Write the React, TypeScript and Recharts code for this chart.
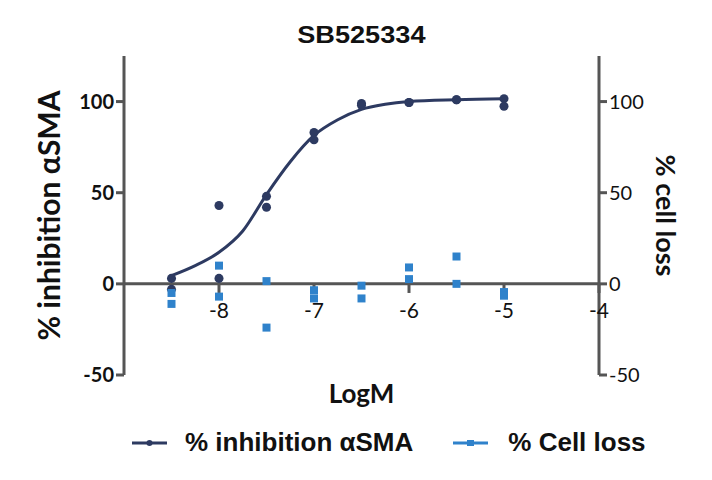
import React from "react";
import {
  ComposedChart,
  Legend,
  Line,
  ReferenceLine,
  Scatter,
  XAxis,
  YAxis,
} from "recharts";

// log concentrations (replicates share an x)
const doseX = [-8.5, -8.5, -8, -8, -7.5, -7.5, -7, -7, -6.5, -6.5, -6, -6, -5.5, -5.5, -5, -5];
const inhibitionY = [3, -3, 43, 3, 48, 42, 83, 79, 99, 98, 99.5, 99.5, 101, 101, 101.6, 97.4];
const cellLossY = [-5, -11, 10, -7, 1.5, -24, -3.5, -8, -1, -8, 9, 2.6, 15, 0, -4.5, -6.5];

// fitted curve
const curveX = [-8.5, -8.25, -8, -7.75, -7.5, -7.25, -7, -6.75, -6.5, -6.25, -6, -5.5, -5];
const curveY = [4.5, 10, 17.3, 29, 49, 67, 81.4, 90, 95.7, 98.5, 100, 101, 101.5];

const xTicks = [-8, -7, -6, -5, -4];
const yTicks = [-50, 0, 50, 100];

const DARK = "#2d3a61";
const BLUE = "#2f82cb";
const AXIS = "#555555";

const inhibitionData = doseX.map((x, i) => ({ x, y: inhibitionY[i] }));
const cellLossData = doseX.map((x, i) => ({ x, y: cellLossY[i] }));
const curveData = curveX.map((x, i) => ({ x, y: curveY[i] }));

const LegendIcon = ({ color, square }: { color: string; square?: boolean }) => (
  <svg width={35} height={12} style={{ display: "block" }}>
    <line x1={0} y1={6} x2={35} y2={6} stroke={color} strokeWidth={3} />
    {square ? (
      <rect x={14} y={3} width={7} height={6} fill={color} />
    ) : (
      <circle cx={17.5} cy={6} r={3} fill={color} />
    )}
  </svg>
);

const renderLegend = () => (
  <div
    style={{
      display: "flex",
      alignItems: "center",
      paddingLeft: 132,
      paddingTop: 2,
      fontFamily: "'Liberation Sans', Arial, sans-serif",
      fontWeight: "bold",
      fontSize: 26,
      color: "#111",
    }}
  >
    <LegendIcon color={DARK} />
    <span style={{ marginLeft: 18 }}>% inhibition αSMA</span>
    <span style={{ marginLeft: 40, display: "flex" }}>
      <LegendIcon color={BLUE} square />
    </span>
    <span style={{ marginLeft: 20 }}>% Cell loss</span>
  </div>
);

const App = () => {
  return (
    <div style={{ position: "absolute", left: 0, top: 0, width: 712, height: 480, background: "#fff" }}>
      <div
        style={{
          position: "absolute",
          top: 21,
          left: 0,
          width: 722,
          textAlign: "center",
          fontFamily: "'Liberation Sans', Arial, sans-serif",
          fontWeight: "bold",
          fontSize: 23,
          lineHeight: "28px",
          color: "#111",
        }}
      >
        <span style={{ display: "inline-block", transform: "scaleX(1.18)" }}>SB525334</span>
      </div>
      <ComposedChart
        width={712}
        height={480}
        margin={{ top: 56, right: 0, bottom: 25, left: 0 }}
      >
        <XAxis
          type="number"
          dataKey="x"
          domain={[-9, -4]}
          allowDataOverflow
          ticks={xTicks}
          tick={false}
          axisLine={false}
          tickLine={false}
          height={50}
          label={{
            value: "LogM",
            position: "insideTop",
            offset: 10,
            fill: "#111",
            fontSize: 26,
            fontWeight: "bold",
            fontFamily: "Lato, sans-serif",
          }}
        />
        <YAxis
          yAxisId="left"
          dataKey="y"
          type="number"
          domain={[-50, 125]}
          ticks={yTicks}
          width={124}
          axisLine={{ stroke: AXIS, strokeWidth: 3 }}
          tickLine={{ stroke: AXIS, strokeWidth: 3 }}
          tickSize={8}
          tick={{ fill: "#111", fontSize: 20, fontWeight: "bold", fontFamily: "Lato, sans-serif" }}
          label={{
            value: "% inhibition αSMA",
            angle: -90,
            position: "insideLeft",
            offset: 0,
            dx: 49,
            fill: "#111",
            fontSize: 30,
            fontWeight: "bold",
            fontFamily: "Lato, sans-serif",
            style: { textAnchor: "middle" },
          }}
        />
        <YAxis
          yAxisId="right"
          orientation="right"
          dataKey="y"
          type="number"
          domain={[-50, 125]}
          ticks={yTicks}
          width={113}
          axisLine={{ stroke: AXIS, strokeWidth: 3 }}
          tickLine={{ stroke: AXIS, strokeWidth: 3 }}
          tickSize={8}
          tick={{ fill: "#111", fontSize: 20, fontFamily: "Lato, sans-serif" }}
          label={{
            value: "% cell loss",
            angle: 90,
            position: "insideRight",
            offset: 0,
            dx: -46,
            fill: "#111",
            fontSize: 27,
            fontWeight: "bold",
            fontFamily: "Lato, sans-serif",
            style: { textAnchor: "middle" },
          }}
        />
        <ReferenceLine yAxisId="left" y={0} stroke={AXIS} strokeWidth={3} />
        {xTicks.map((t) => (
          <ReferenceLine
            key={t}
            yAxisId="left"
            segment={[
              { x: t, y: 0 },
              { x: t, y: -5 },
            ]}
            stroke={AXIS}
            strokeWidth={3}
            label={{
              value: t,
              position: "bottom",
              offset: 10,
              fill: "#111",
              fontSize: 21,
              fontFamily: "Lato, sans-serif",
            }}
          />
        ))}
        <Line
          yAxisId="left"
          data={curveData}
          dataKey="y"
          type="monotone"
          stroke={DARK}
          strokeWidth={3}
          dot={false}
          isAnimationActive={false}
        />
        <Scatter
          yAxisId="left"
          data={inhibitionData}
          dataKey="y"
          fill={DARK}
          shape="circle"
          isAnimationActive={false}
        />
        <Scatter
          yAxisId="right"
          data={cellLossData}
          dataKey="y"
          fill={BLUE}
          shape="square"
          isAnimationActive={false}
        />
        <Legend verticalAlign="bottom" height={30} content={renderLegend} />
      </ComposedChart>
    </div>
  );
};

export default App;
